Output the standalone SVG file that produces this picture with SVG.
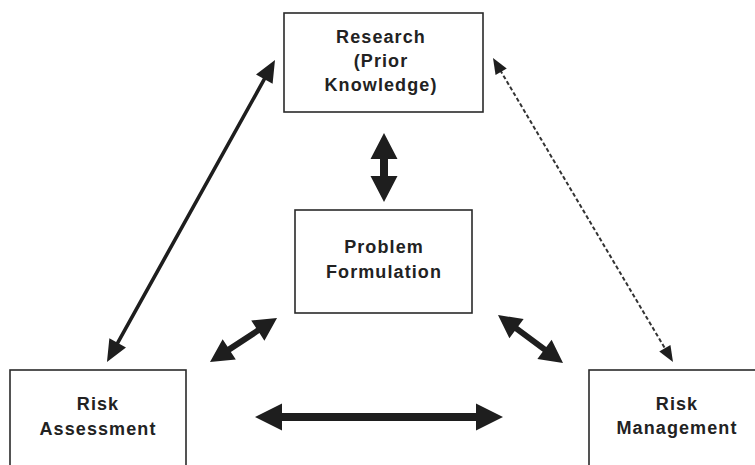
<svg xmlns="http://www.w3.org/2000/svg" width="755" height="465" viewBox="0 0 755 465">
<style>
.box{fill:#fff;stroke:#2a2a2a;stroke-width:1.6}
.lbl{font-family:"Liberation Sans",Arial,sans-serif;font-weight:bold;font-size:18px;letter-spacing:1.1px;fill:#222;text-anchor:middle}
.arr{fill:#1e1e1e}
.dash{stroke:#333;stroke-width:2;stroke-dasharray:4 2.5;fill:none}
</style>
<rect width="755" height="465" fill="#fff"/>
<g id="research"><rect class="box" x="284" y="13" width="199" height="99"/>
<text class="lbl" x="381" y="43">Research</text><text class="lbl" x="381" y="67">(Prior</text><text class="lbl" x="381" y="91">Knowledge)</text></g>
<g id="problem"><rect class="box" x="295" y="210" width="177" height="103"/>
<text class="lbl" x="384" y="253">Problem</text><text class="lbl" x="384" y="278">Formulation</text></g>
<g id="assessment"><rect class="box" x="10" y="370" width="176" height="110"/>
<text class="lbl" x="98" y="410">Risk</text><text class="lbl" x="98" y="435">Assessment</text></g>
<g id="management"><rect class="box" x="589" y="370" width="180" height="110"/>
<text class="lbl" x="677" y="410">Risk</text><text class="lbl" x="677" y="434">Management</text></g>
<g id="connectors">
<polygon class="arr" transform="translate(384,133) rotate(90)" points="0,0 26,-13.5 26,-4 43,-4 43,-13.5 69,0 43,13.5 43,4 26,4 26,13.5"/>
<polygon class="arr" transform="translate(255,417)" points="0,0 27,-13.5 27,-4 221,-4 221,-13.5 248,0 221,13.5 221,4 27,4 27,13.5"/>
<polygon class="arr" transform="translate(210,362) rotate(-33.29)" points="0,0 23,-12 23,-3 57.2,-3 57.2,-12 80.2,0 57.2,12 57.2,3 23,3 23,12"/>
<polygon class="arr" transform="translate(498,315) rotate(36.44)" points="0,0 23,-12 23,-3 57.8,-3 57.8,-12 80.8,0 57.8,12 57.8,3 23,3 23,12"/>
<polygon class="arr" transform="translate(275,60) rotate(119.09)" points="0,0 22,-9.5 22,-1.8 323.6,-1.8 323.6,-9.5 345.6,0 323.6,9.5 323.6,1.8 22,1.8 22,9.5"/>
<g transform="translate(493,58) rotate(59.37)">
<line class="dash" x1="14" y1="0" x2="339.3" y2="0"/>
<polygon class="arr" points="0,0 16,-6.5 16,6.5"/>
<polygon class="arr" points="353.3,0 337.3,-6.5 337.3,6.5"/>
</g>
</g>
</svg>
